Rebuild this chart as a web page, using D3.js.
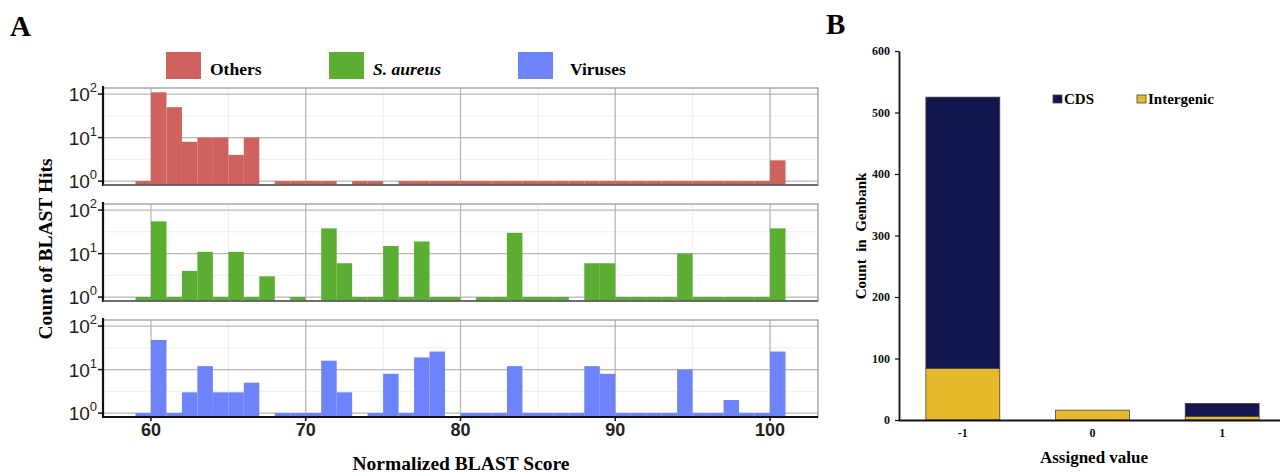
<!DOCTYPE html>
<html>
<head>
<meta charset="utf-8">
<script src="https://cdn.jsdelivr.net/npm/d3@7"></script>
<style>
  body { margin: 0; background: #fff; }
  svg { display: block; }
</style>
</head>
<body>
<script>
// histogram bins (left edge of each 1-unit bin)
const binStarts = [59, 60, 61, 62, 63, 64, 65, 66, 67, 68, 69, 70, 71, 72, 73, 74, 75, 76, 77, 78,
  79, 80, 81, 82, 83, 84, 85, 86, 87, 88, 89, 90, 91, 92, 93, 94, 95, 96, 97, 98, 99, 100];

const othersCounts = [1, 110, 50, 8, 10, 10, 4, 10, 0, 1, 1, 1, 1, 0, 1, 1, 0, 1, 1, 1,
  1, 1, 1, 1, 1, 1, 1, 1, 1, 1, 1, 1, 1, 1, 1, 1, 1, 1, 1, 1, 1, 3];
const aureusCounts = [1, 55, 1, 4, 11, 1, 11, 1, 3, 0, 1, 0, 38, 6, 1, 1, 15, 1, 19, 1,
  1, 0, 1, 1, 30, 1, 1, 1, 0, 6, 6, 1, 1, 1, 1, 10, 1, 1, 1, 1, 1, 38];
const virusCounts = [1, 48, 1, 3, 12, 3, 3, 5, 0, 1, 1, 1, 16, 3, 0, 1, 8, 1, 19, 26,
  0, 1, 1, 1, 12, 1, 1, 1, 1, 12, 8, 1, 1, 1, 1, 10, 1, 1, 2, 1, 1, 26];

const seriesNames = ["Others", "S. aureus", "Viruses"];
const seriesColors = ["#CF625D", "#5BAE32", "#6C83FA"];
const xTicks = [60, 70, 80, 90, 100];
const yTicksExp = [0, 1, 2];

// panel B
const assigned = ["-1", "0", "1"];
const intergenic = [84, 16, 6];
const cds = [441, 0, 21];
const bTicks = [0, 100, 200, 300, 400, 500, 600];

const serif = "'Liberation Serif', 'Times New Roman', serif";
const sans = "'Liberation Sans', Arial, sans-serif";

const svg = d3.select("body").append("svg")
  .attr("width", 1280)
  .attr("height", 474);

// ---------- Panel A ----------
svg.append("text").attr("x", 10).attr("y", 36)
  .attr("font-family", serif).attr("font-weight", "bold").attr("font-size", 29)
  .text("A");

const x = d3.scaleLinear().domain([56.9, 103.1]).range([103, 818]);
const panelTops = [88, 204, 320];
const panelH = 97;
const allCounts = [othersCounts, aureusCounts, virusCounts];

allCounts.forEach(function (counts, p) {
  const top = panelTops[p];
  const bottom = top + panelH;
  const y = d3.scaleLog().domain([Math.pow(10, -0.09), Math.pow(10, 2.14)]).range([bottom, top]);
  const g = svg.append("g");

  // minor grid
  [65, 75, 85, 95].forEach(function (v) {
    g.append("line").attr("x1", x(v)).attr("x2", x(v)).attr("y1", top).attr("y2", bottom)
      .attr("stroke", "#EEEEEE").attr("stroke-width", 1);
  });
  [0.5, 1.5].forEach(function (e) {
    g.append("line").attr("x1", x.range()[0]).attr("x2", x.range()[1])
      .attr("y1", y(Math.pow(10, e))).attr("y2", y(Math.pow(10, e)))
      .attr("stroke", "#EEEEEE").attr("stroke-width", 1);
  });
  // major grid
  xTicks.forEach(function (v) {
    g.append("line").attr("x1", x(v)).attr("x2", x(v)).attr("y1", top).attr("y2", bottom)
      .attr("stroke", "#B8B8B8").attr("stroke-width", 1.3);
  });
  yTicksExp.forEach(function (e) {
    g.append("line").attr("x1", x.range()[0]).attr("x2", x.range()[1])
      .attr("y1", y(Math.pow(10, e))).attr("y2", y(Math.pow(10, e)))
      .attr("stroke", "#B8B8B8").attr("stroke-width", 1.3);
  });

  // bars
  g.selectAll("rect.bar")
    .data(binStarts.map(function (b, i) { return { b: b, c: counts[i] }; }).filter(function (d) { return d.c > 0; }))
    .enter()
      .append("rect")
      .attr("class", "bar")
      .attr("x", function (d) { return x(d.b); })
      .attr("width", function (d) { return x(d.b + 1) - x(d.b); })
      .attr("y", function (d) { return y(d.c); })
      .attr("height", function (d) { return bottom - y(d.c); })
      .attr("fill", seriesColors[p]);

  // panel border
  g.append("rect").attr("x", x.range()[0]).attr("y", top)
    .attr("width", x.range()[1] - x.range()[0]).attr("height", panelH)
    .attr("fill", "none").attr("stroke", "#9A9A9A").attr("stroke-width", 1.3);

  // axis lines
  g.append("line").attr("x1", x.range()[0]).attr("x2", x.range()[0]).attr("y1", top - 2).attr("y2", bottom + 1)
    .attr("stroke", "#111").attr("stroke-width", 2.2);
  g.append("line").attr("x1", x.range()[0]).attr("x2", x.range()[1]).attr("y1", bottom).attr("y2", bottom)
    .attr("stroke", p === 2 ? "#111" : "#555").attr("stroke-width", p === 2 ? 2.2 : 1.6);

  // y ticks
  yTicksExp.forEach(function (e) {
    const yy = y(Math.pow(10, e));
    g.append("line").attr("x1", x.range()[0] - 5).attr("x2", x.range()[0]).attr("y1", yy).attr("y2", yy)
      .attr("stroke", "#111").attr("stroke-width", 1.5);
    const t = g.append("text").attr("x", x.range()[0] - 6).attr("y", yy + 7)
      .attr("text-anchor", "end").attr("font-family", sans).attr("font-size", 19).attr("fill", "#222");
    t.append("tspan").text("10");
    t.append("tspan").attr("dy", -9).attr("font-size", 13).text(e);
  });

  if (p === 2) {
    xTicks.forEach(function (v) {
      g.append("line").attr("x1", x(v)).attr("x2", x(v)).attr("y1", bottom).attr("y2", bottom + 4)
        .attr("stroke", "#111").attr("stroke-width", 1.5);
      g.append("text").attr("x", x(v)).attr("y", bottom + 19)
        .attr("text-anchor", "middle").attr("font-family", sans).attr("font-weight", "bold")
        .attr("font-size", 18).attr("fill", "#222").text(v);
    });
  }
});

// axis titles A
svg.append("text").attr("x", 461).attr("y", 470)
  .attr("text-anchor", "middle").attr("font-family", serif).attr("font-weight", "bold").attr("font-size", 19.5)
  .text("Normalized BLAST Score");
svg.append("text").attr("transform", "translate(52,249) rotate(-90)")
  .attr("text-anchor", "middle").attr("font-family", serif).attr("font-weight", "bold").attr("font-size", 19.5)
  .text("Count of BLAST Hits");

// legend A
const legendX = [166, 329, 518];
seriesNames.forEach(function (n, i) {
  svg.append("rect").attr("x", legendX[i]).attr("y", 52).attr("width", 35).attr("height", 27)
    .attr("fill", seriesColors[i]);
  svg.append("text").attr("x", legendX[i] + (i === 2 ? 52 : 44)).attr("y", 75)
    .attr("font-family", serif).attr("font-weight", "bold").attr("font-size", 17.5)
    .attr("font-style", i === 1 ? "italic" : "normal")
    .text(n);
});

// ---------- Panel B ----------
svg.append("text").attr("x", 826).attr("y", 34)
  .attr("font-family", serif).attr("font-weight", "bold").attr("font-size", 29)
  .text("B");

const bx = d3.scaleBand().domain(assigned).range([898, 1287]).paddingInner(0.43).paddingOuter(0.215);
const by = d3.scaleLinear().domain([0, 600]).range([420, 51]);

const stacked = assigned.map(function (a, i) { return { a: a, inter: intergenic[i], cds: cds[i] }; });

svg.selectAll("rect.inter")
  .data(stacked)
  .enter()
    .append("rect")
    .attr("class", "inter")
    .attr("x", function (d) { return bx(d.a); })
    .attr("width", bx.bandwidth())
    .attr("y", function (d) { return by(d.inter); })
    .attr("height", function (d) { return by(0) - by(d.inter); })
    .attr("fill", "#E5B92B").attr("stroke", "#444").attr("stroke-width", 0.8);

svg.selectAll("rect.cds")
  .data(stacked.filter(function (d) { return d.cds > 0; }))
  .enter()
    .append("rect")
    .attr("class", "cds")
    .attr("x", function (d) { return bx(d.a); })
    .attr("width", bx.bandwidth())
    .attr("y", function (d) { return by(d.inter + d.cds); })
    .attr("height", function (d) { return by(d.inter) - by(d.inter + d.cds); })
    .attr("fill", "#13154F").attr("stroke", "#444").attr("stroke-width", 0.8);

const yAxisB = svg.append("g").attr("transform", "translate(899,0)")
  .call(d3.axisLeft(by).tickValues(bTicks).tickSize(4).tickSizeOuter(0));
yAxisB.select(".domain").attr("stroke", "#111").attr("stroke-width", 1.8);
yAxisB.selectAll(".tick line").attr("stroke", "#111").attr("stroke-width", 1.2);
yAxisB.selectAll(".tick text").attr("font-family", serif).attr("font-weight", "bold")
  .attr("font-size", 12).attr("fill", "#111").attr("x", -9);

const xAxisB = svg.append("g").attr("transform", "translate(0,420)")
  .call(d3.axisBottom(bx).tickSize(0).tickSizeOuter(0));
xAxisB.select(".domain").attr("stroke", "#111").attr("stroke-width", 1.8);
xAxisB.selectAll(".tick text").attr("font-family", serif).attr("font-weight", "bold")
  .attr("font-size", 12).attr("fill", "#111").attr("dy", "1.2em");

svg.append("text").attr("x", 1094).attr("y", 463)
  .attr("text-anchor", "middle").attr("font-family", serif).attr("font-weight", "bold").attr("font-size", 17)
  .text("Assigned value");
svg.append("text").attr("transform", "translate(866,236) rotate(-90)")
  .attr("text-anchor", "middle").attr("font-family", serif).attr("font-weight", "bold").attr("font-size", 15)
  .attr("xml:space", "preserve")
  .text("Count  in  Genbank");

// legend B
const bLegend = [["CDS", "#13154F", 1053], ["Intergenic", "#E5B92B", 1137]];
bLegend.forEach(function (l) {
  svg.append("rect").attr("x", l[2]).attr("y", 95).attr("width", 9).attr("height", 8)
    .attr("fill", l[1]).attr("stroke", "#444").attr("stroke-width", 0.8);
  svg.append("text").attr("x", l[2] + 11).attr("y", 104)
    .attr("font-family", serif).attr("font-weight", "bold").attr("font-size", 15)
    .text(l[0]);
});
</script>
</body>
</html>
